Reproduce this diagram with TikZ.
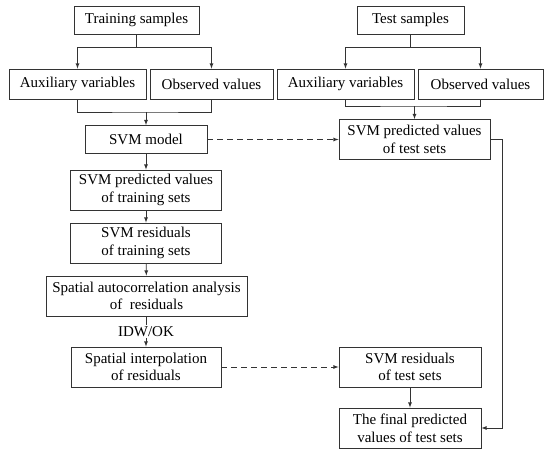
\documentclass[tikz,border=0pt]{standalone}
\usepackage{fontspec}
\setmainfont{Liberation Serif}
\usetikzlibrary{arrows}

\begin{document}
\begin{tikzpicture}[>=latex, x=1pt, y=-1pt]
	\tikzstyle{box} = [draw, black!80, line width=0.8pt, text=black, inner sep=0pt, align=center, minimum height=40pt, font=\fontsize{15}{17.7}\selectfont]
	\tikzstyle{flat} = [box, minimum height=28pt]
	\tikzstyle{line} = [black!80, line width=0.8pt]
	\tikzstyle{dashline} = [line, dash pattern=on 6pt off 4pt]

	\useasboundingbox (0,0) rectangle (550,455);

	% boxes
	\path
	node[flat, minimum width=125pt] (train) at (136.5,20) {Training samples}
	node[flat, minimum width=107pt] (test) at (410.5,20) {Test samples}
	node[flat, minimum width=137pt, minimum height=30pt] (aux1) at (77.5,84) {Auxiliary variables}
	node[flat, minimum width=123pt, minimum height=30pt] (obs1) at (211.5,84) {Observed values}
	node[flat, minimum width=137pt, minimum height=30pt] (aux2) at (345.5,84) {Auxiliary variables}
	node[flat, minimum width=125pt, minimum height=30pt] (obs2) at (480.5,84) {Observed values}
	node[flat, minimum width=122pt] (svm) at (146,139.5) {SVM model}
	node[box, minimum width=151pt] (svmtest) at (414.5,139.5) {SVM predicted values\\of test sets}
	node[box, minimum width=151pt] (predtrain) at (146,190) {SVM predicted values\\of training sets}
	node[box, minimum width=151pt] (restrain) at (146,243) {SVM residuals\\of training sets}
	node[box, minimum width=201pt] (auto) at (146.5,296) {Spatial autocorrelation analysis\\of~ residuals}
	node[box, minimum width=150pt] (interp) at (146,367) {Spatial interpolation\\of residuals}
	node[box, minimum width=142pt] (restest) at (410,367) {SVM residuals\\of test sets}
	node[box, minimum width=142pt] (final) at (410,428) {The final predicted\\values of test sets}
	;

	\coordinate (split) at (0,47);
	\coordinate (ljoin) at (0,112);
	\coordinate (rjoin) at (0,106);

	% training branch
	\draw[line] (train.south) -- (train.south |- split);
	\draw[line, ->] (train.south |- split) -| (aux1.north);
	\draw[line, ->] (train.south |- split) -| (obs1.north);
	\draw[line] (aux1.south) |- (svm.north |- ljoin) -| (obs1.south);
	\draw[line, ->] (svm.north |- ljoin) -- (svm.north);

	% test branch
	\draw[line] (test.south) -- (test.south |- split);
	\draw[line, ->] (test.south |- split) -| (aux2.north);
	\draw[line, ->] (test.south |- split) -| (obs2.north);
	\draw[line] (aux2.south) |- (svmtest.north |- rjoin) -| (obs2.south);
	\draw[line, ->] (svmtest.north |- rjoin) -- (svmtest.north);

	\path[line, ->]
	(svm) edge (predtrain)
	(predtrain) edge (restrain)
	(restrain) edge (auto)
	(restest) edge (final)
	;

	\draw[line, ->] (interp.north |- auto.south) -- node[fill=white, text=black, inner sep=1.5pt, font=\fontsize{15}{17.7}\selectfont] (idw) {IDW/OK} (interp.north);

	\draw[dashline, ->] (svm.east) -- (svmtest.west);
	\draw[dashline, ->] (interp.east) -- (restest.west);
	\draw[line, ->] (svmtest.east) -- ++(12,0) |- (final.east);

\end{tikzpicture}
\end{document}
